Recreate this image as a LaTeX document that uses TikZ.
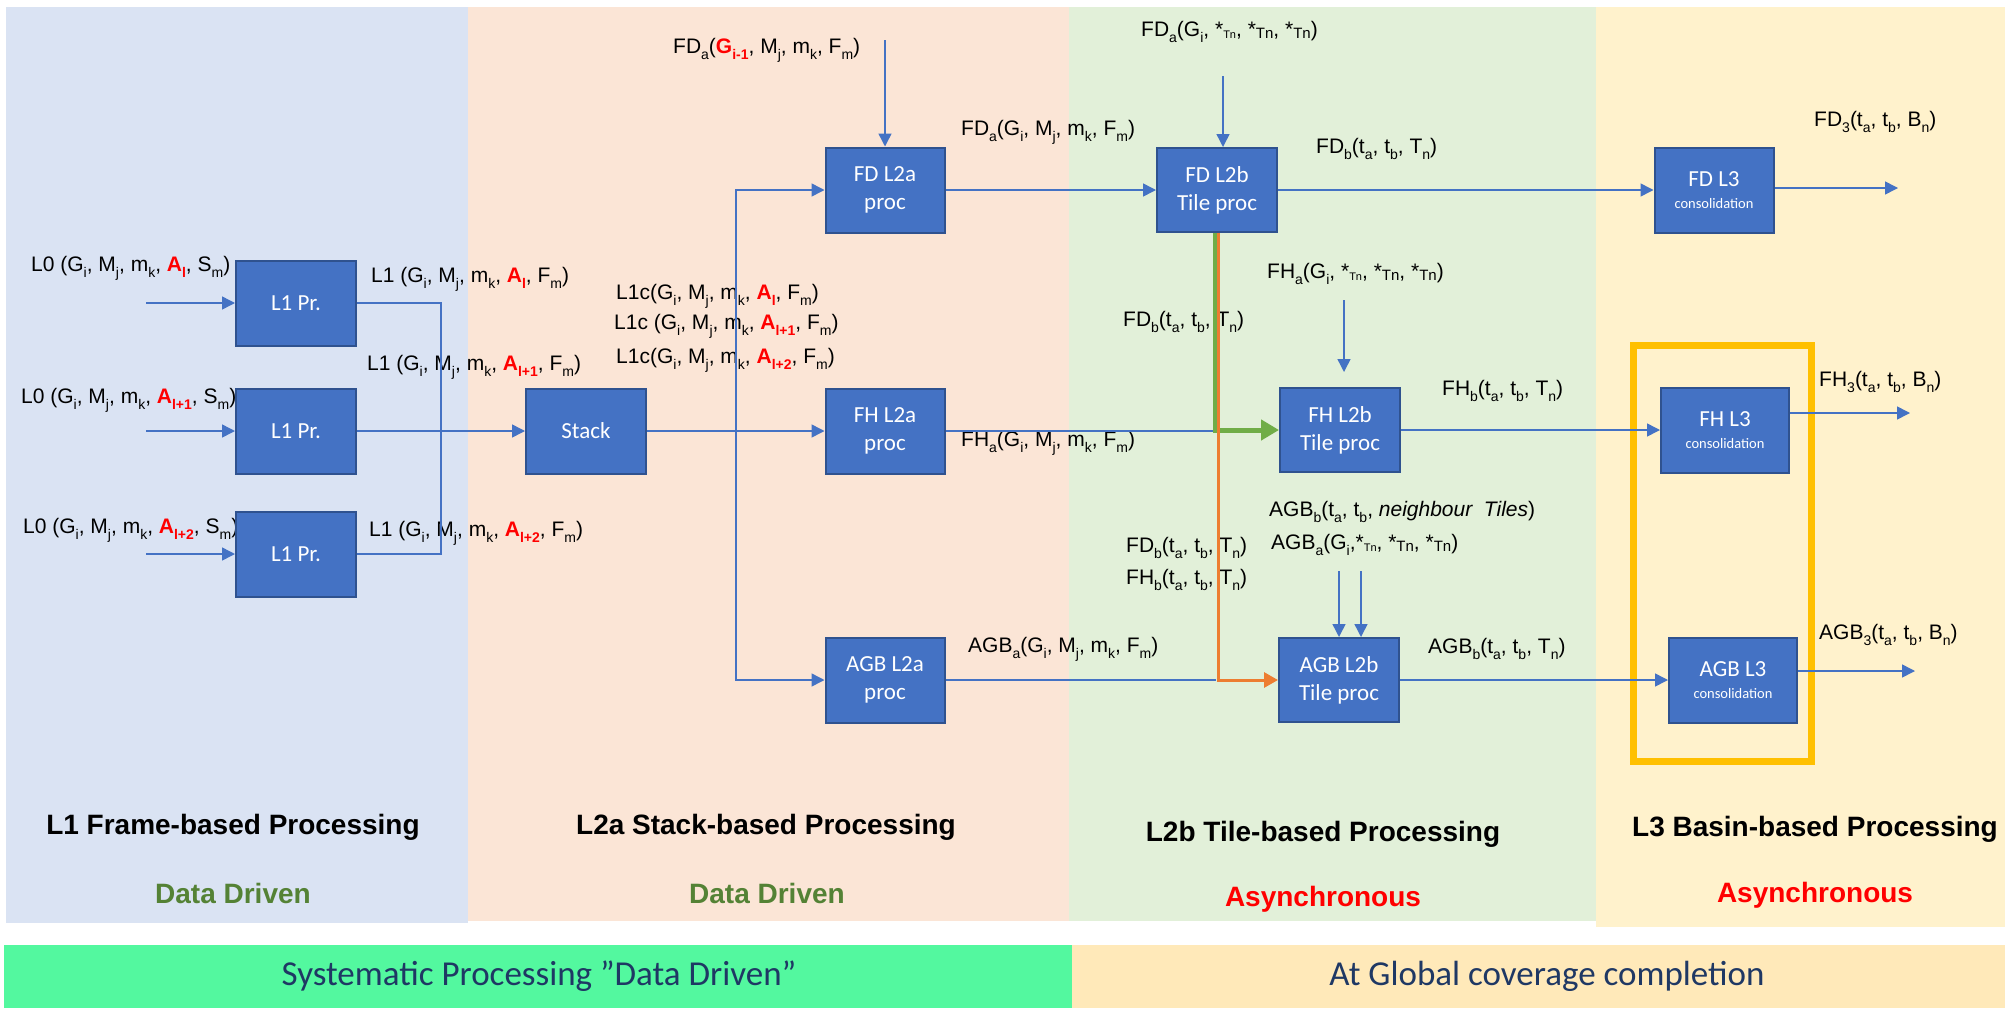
\documentclass[tikz,border=0pt]{standalone}
\usepackage{fontspec}
\setmainfont{Liberation Sans}
\newfontfamily\boxfont{Carlito}
\usetikzlibrary{arrows.meta}
\pgfdeclarelayer{back}
\pgfdeclarelayer{mid}
\pgfsetlayers{back,mid,main}
\definecolor{boxblue}{RGB}{68,114,196}
\definecolor{boxedge}{RGB}{47,82,143}
\definecolor{pblue}{RGB}{218,227,243}
\definecolor{ppeach}{RGB}{251,229,214}
\definecolor{pgreen}{RGB}{226,240,217}
\definecolor{pyellow}{RGB}{255,242,204}
\definecolor{barg}{RGB}{83,248,159}
\definecolor{bary}{RGB}{255,233,185}
\definecolor{gold}{RGB}{255,192,0}
\definecolor{grn}{RGB}{112,173,71}
\definecolor{org}{RGB}{237,125,49}
\definecolor{ddgreen}{RGB}{84,130,53}
\definecolor{navy}{RGB}{31,56,100}
\definecolor{redA}{RGB}{255,0,0}
\newcommand\lsub[1]{\raisebox{-0.28em}{\fontsize{14}{14}\selectfont #1}}
\newcommand\RA[1]{\textcolor{redA}{\bfseries A\lsub{\bfseries #1}}}
\newcommand\tnb{*\raisebox{-0.08em}{\fontsize{15}{15}\selectfont Tn}}
\newcommand\tns{*\raisebox{-0.08em}{\fontsize{11}{11}\selectfont Tn}}
\tikzset{
  proc/.style={draw=boxedge, line width=2pt, fill=boxblue, text=white,
    font=\boxfont\fontsize{23}{28}\selectfont, align=center, inner sep=0pt,
    minimum width=120pt, minimum height=85pt},
  lbl/.style={anchor=west, inner sep=0pt, font=\fontsize{21}{25}\selectfont},
  head/.style={inner sep=0pt, font=\bfseries\fontsize{28}{32}\selectfont},
  bartext/.style={inner sep=0pt, text=navy, font=\boxfont\fontsize{35}{40}\selectfont},
  con/.style={draw=boxblue, line width=1.5pt},
  arr/.style={con, -{Triangle[length=13pt,width=13pt]}},
  grnarr/.style={draw=grn, line width=5pt, -{Triangle[length=18pt,width=20pt]}},
  orgarr/.style={draw=org, line width=3pt, -{Triangle[length=14pt,width=15pt]}},
}
\begin{document}
\begin{tikzpicture}[x=1pt,y=-1pt]
\useasboundingbox (0,0) rectangle (2005,1009);
\begin{pgfonlayer}{back}
\fill[white] (0,0) rectangle (2005,1009);
% panels
\fill[pblue] (6,7) rectangle (468,923);
\fill[ppeach] (468,7) rectangle (1069,921);
\fill[pgreen] (1069,7) rectangle (1596,921);
\fill[pyellow] (1596,7) rectangle (2005,927);
\fill[barg] (4,945) rectangle (1072,1008);
\fill[bary] (1072,945) rectangle (2005,1008);
% highlight frame
\draw[gold, line width=7pt] (1633,345) rectangle (1811,761);

% headings
\node[head] (h1) at (233,827) {L1 Frame-based Processing};
\node[head] (h2) at (766,827) {L2a Stack-based Processing};
\node[head] (h3) at (1323,834) {L2b Tile-based Processing};
\node[head] (h4) at (1815,829) {L3 Basin-based Processing};
\node[head, text=ddgreen] (m1) at (233,893) {Data Driven};
\node[head, text=ddgreen] (m2) at (767,893) {Data Driven};
\node[head, text=redA] (m3) at (1323,899) {Asynchronous};
\node[head, text=redA] (m4) at (1815,895) {Asynchronous};
\node[bartext] (b1) at (539,976) {Systematic Processing ”Data Driven”};
\node[bartext] (b2) at (1547,976) {At Global coverage completion};

% labels
\node[lbl] (t0a) at (31,268) {L0 (G\lsub{i}, M\lsub{j}, m\lsub{k}, \RA{l}, S\lsub{m})};
\node[lbl] (t0b) at (21,400) {L0 (G\lsub{i}, M\lsub{j}, m\lsub{k}, \RA{l+1}, S\lsub{m})};
\node[lbl] (t0c) at (23,530) {L0 (G\lsub{i}, M\lsub{j}, m\lsub{k}, \RA{l+2}, S\lsub{m})};
\node[lbl] (t1a) at (371,279) {L1 (G\lsub{i}, M\lsub{j}, m\lsub{k}, \RA{l}, F\lsub{m})};
\node[lbl] (t1b) at (367,367) {L1 (G\lsub{i}, M\lsub{j}, m\lsub{k}, \RA{l+1}, F\lsub{m})};
\node[lbl] (t1c) at (369,533) {L1 (G\lsub{i}, M\lsub{j}, m\lsub{k}, \RA{l+2}, F\lsub{m})};
\node[lbl] (tca) at (616,296) {L1c(G\lsub{i}, M\lsub{j}, m\lsub{k}, \RA{l}, F\lsub{m})};
\node[lbl] (tcb) at (614,326) {L1c (G\lsub{i}, M\lsub{j}, m\lsub{k}, \RA{l+1}, F\lsub{m})};
\node[lbl] (tcc) at (616,360) {L1c(G\lsub{i}, M\lsub{j}, m\lsub{k}, \RA{l+2}, F\lsub{m})};
\node[lbl] (tfdtop) at (673,50) {FD\lsub{a}(\textcolor{redA}{\bfseries G\lsub{\bfseries i-1}}, M\lsub{j}, m\lsub{k}, F\lsub{m})};
\node[lbl] (tfda) at (961,132) {FD\lsub{a}(G\lsub{i}, M\lsub{j}, m\lsub{k}, F\lsub{m})};
\node[lbl] (tfha) at (961,443) {FH\lsub{a}(G\lsub{i}, M\lsub{j}, m\lsub{k}, F\lsub{m})};
\node[lbl] (tagba) at (968,649) {AGB\lsub{a}(G\lsub{i}, M\lsub{j}, m\lsub{k}, F\lsub{m})};
\node[lbl] (tfdstar) at (1141,32) {FD\lsub{a}(G\lsub{i}, \tns, \tnb, \tnb)};
\node[lbl] (tfdb) at (1316,149) {FD\lsub{b}(t\lsub{a}, t\lsub{b}, T\lsub{n})};
\node[lbl] (tfhstar) at (1267,274) {FH\lsub{a}(G\lsub{i}, \tns, \tnb, \tnb)};
\node[lbl] (tfdbm) at (1123,322) {FD\lsub{b}(t\lsub{a}, t\lsub{b}, T\lsub{n})};
\node[lbl] (tfhb) at (1442,391) {FH\lsub{b}(t\lsub{a}, t\lsub{b}, T\lsub{n})};
\node[lbl] (tagbn) at (1269,512) {AGB\lsub{b}(t\lsub{a}, t\lsub{b}, \textit{neighbour\ \ Tiles})};
\node[lbl] (tagbstar) at (1271,545) {AGB\lsub{a}(G\lsub{i},\tns, \tnb, \tnb)};
\node[lbl] (tfdbl) at (1126,548) {FD\lsub{b}(t\lsub{a}, t\lsub{b}, T\lsub{n})};
\node[lbl] (tfhbl) at (1126,580) {FH\lsub{b}(t\lsub{a}, t\lsub{b}, T\lsub{n})};
\node[lbl] (tagbb) at (1428,649) {AGB\lsub{b}(t\lsub{a}, t\lsub{b}, T\lsub{n})};
\node[lbl] (tfd3) at (1814,122) {FD\lsub{3}(t\lsub{a}, t\lsub{b}, B\lsub{n})};
\node[lbl] (tfh3) at (1819,382) {FH\lsub{3}(t\lsub{a}, t\lsub{b}, B\lsub{n})};
\node[lbl] (tagb3) at (1819,635) {AGB\lsub{3}(t\lsub{a}, t\lsub{b}, B\lsub{n})};
\end{pgfonlayer}

% boxes
\path
  (296,303) node[proc] (l1a) {L1 Pr.}
  (296,431) node[proc] (l1b) {L1 Pr.}
  (296,554) node[proc] (l1c) {L1 Pr.}
  (586,431) node[proc] (stack) {Stack}
  (885,190) node[proc, minimum width=119pt] (fd2a) {FD L2a\\proc}
  (885,431) node[proc, minimum width=119pt] (fh2a) {FH L2a\\proc}
  (885,680) node[proc, minimum width=119pt] (agb2a) {AGB L2a\\proc}
  (1217,190) node[proc, minimum height=84pt] (fd2b) {FD L2b\\Tile proc}
  (1340,430) node[proc, minimum height=84pt] (fh2b) {FH L2b\\Tile proc}
  (1339,680) node[proc, minimum height=84pt] (agb2b) {AGB L2b\\Tile proc}
  (1714,190) node[proc, minimum width=119pt] (fd3) {FD L3\\[-6pt]{\fontsize{14.5}{17}\selectfont consolidation}}
  (1725,430) node[proc, minimum width=128pt] (fh3) {FH L3\\[-6pt]{\fontsize{14.5}{17}\selectfont consolidation}}
  (1733,680) node[proc, minimum width=128pt] (agb3) {AGB L3\\[-6pt]{\fontsize{14.5}{17}\selectfont consolidation}};

% free ends
\coordinate (in1) at (146,303);
\coordinate (in2) at (146,431);
\coordinate (in3) at (146,554);
\coordinate (busx) at (441,0);
\coordinate (vbus) at (736,0);
\coordinate (fdtop) at (885,40);
\coordinate (fdbtop) at (1223,76);
\coordinate (gx) at (1216,0);
\coordinate (fhbtop) at (1344,300);
\coordinate (fhbtip) at (1344,372);
\coordinate (ag1) at (1339,571);
\coordinate (ag2) at (1361,571);
\coordinate (fdout) at (1898,188);
\coordinate (fhout) at (1910,413);
\coordinate (agbout) at (1915,671);

% connectors
\begin{pgfonlayer}{mid}
\draw[arr] (in1) -- (in1 -| l1a.west);
\draw[arr] (in2) -- (in2 -| l1b.west);
\draw[arr] (in3) -- (in3 -| l1c.west);
\draw[con] (l1a.east) -| (busx |- l1c.east) -- (l1c.east);
\draw[arr] (l1b.east) -- (stack.west);
\draw[arr] (stack.east) -- (fh2a.west);
\draw[arr] (vbus |- agb2a.west) |- (fd2a.west);
\draw[arr] (vbus |- fh2a.west) |- (agb2a.west);
\draw[arr] (fdtop) -- (fd2a.north);
\draw[arr] (fd2a.east) -- (fd2b.west);
\draw[arr] (fdbtop) -- (fdbtop |- fd2b.north);
\draw[arr] (fd2b.east) -- (fd3.west);
\draw[con] (fh2a.east) -- (gx |- fh2a.east);
\draw[con] (agb2a.east) -- (gx |- agb2a.east);
\draw[grnarr] ([xshift=-2pt]fd2b.south) |- (fh2b.west);
\draw[orgarr] ([xshift=1.5pt]fd2b.south) |- (agb2b.west);
\draw[arr] (fhbtop) -- (fhbtip);
\draw[arr] (ag1) -- (ag1 |- agb2b.north);
\draw[arr] (ag2) -- (ag2 |- agb2b.north);
\draw[arr] (fh2b.east) -- (fh3.west);
\draw[arr] (agb2b.east) -- (agb3.west);
\draw[arr] (fd3.east |- fdout) -- (fdout);
\draw[arr] (fh3.east |- fhout) -- (fhout);
\draw[arr] (agb3.east |- agbout) -- (agbout);
\end{pgfonlayer}
\end{tikzpicture}
\end{document}
